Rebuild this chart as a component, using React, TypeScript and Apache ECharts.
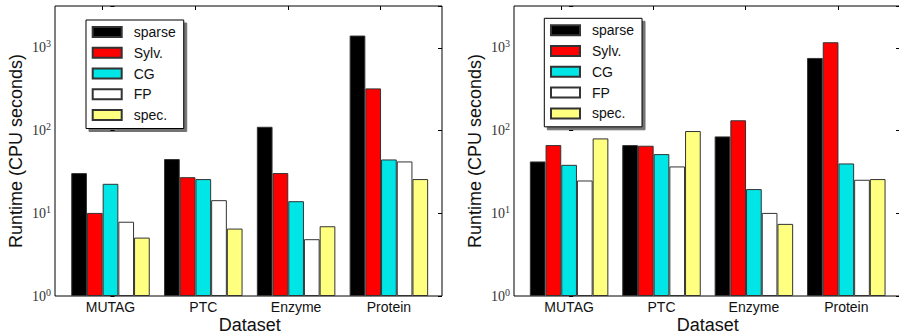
import React, { useEffect, useRef } from "react";
import * as echarts from "echarts";

const categories = ["MUTAG", "PTC", "Enzyme", "Protein"];
const seriesNames = ["sparse", "Sylv.", "CG", "FP", "spec."];
const seriesColors = ["#000000", "#ff0000", "#00e5e5", "#ffffff", "#ffff80"];

// Left panel values (CPU seconds)
const leftSparse = [30.6, 45.2, 111, 1406];
const leftSylv = [10.1, 27.3, 30.6, 323];
const leftCG = [22.7, 25.9, 14.0, 44.7];
const leftFP = [7.9, 14.4, 4.86, 42.3];
const leftSpec = [5.08, 6.53, 6.97, 25.9];

// Right panel values (CPU seconds)
const rightSparse = [42.3, 66.7, 84.9, 754];
const rightSylv = [66.7, 65.5, 133, 1167];
const rightCG = [38.5, 51.9, 19.6, 40.0];
const rightFP = [24.9, 36.8, 10.1, 25.4];
const rightSpec = [80.3, 98.6, 7.44, 25.9];

const yMin = 1;
const yMax = 3200;
const topTickValues = [-0.09, 0.91, 1.91, 2.91];

const SANS = "Liberation Sans";
const SERIF = "Liberation Serif";

function logLabel(value: number) {
  const e = Math.log10(value);
  const r = Math.round(e);
  if (Math.abs(e - r) > 1e-6) return "";
  return `{b|10}{s|${r}}`;
}

const yLabelRich = {
  b: { fontFamily: SERIF, fontSize: 14, color: "#333" },
  s: { fontFamily: SERIF, fontSize: 10, color: "#333", padding: [0, 0, 8, 0] },
};

function frameXAxis(gridIndex: number, min: number, max: number) {
  return {
    gridIndex,
    type: "value",
    position: "top",
    min,
    max,
    axisLine: { show: false },
    axisTick: {
      show: true,
      inside: true,
      length: 4,
      customValues: topTickValues,
      lineStyle: { color: "#000", width: 1 },
    },
    axisLabel: { show: false },
    splitLine: { show: false },
  };
}

function barXAxis(gridIndex: number) {
  return {
    gridIndex,
    type: "category",
    position: "bottom",
    data: categories,
    axisLine: { show: false },
    axisTick: { show: false },
    axisLabel: { fontFamily: SANS, fontSize: 14, color: "#111", margin: 4 },
    name: "Dataset",
    nameLocation: "middle",
    nameGap: 20,
    nameMoveOverlap: false,
    nameTextStyle: { fontFamily: SANS, fontSize: 18, color: "#111" },
    splitLine: { show: false },
  };
}

function frameYAxisLeft(gridIndex: number) {
  return {
    gridIndex,
    type: "log",
    logBase: 10,
    min: yMin,
    max: yMax,
    position: "left",
    axisLine: { show: false },
    axisTick: { show: true, inside: true, length: 4, lineStyle: { color: "#000" } },
    axisLabel: { formatter: logLabel, rich: yLabelRich, margin: 4 },
    splitLine: { show: false },
    minorTick: { show: false },
    name: "Runtime (CPU seconds)",
    nameLocation: "middle",
    nameGap: 30,
    nameMoveOverlap: false,
    nameTextStyle: { fontFamily: SANS, fontSize: 18, color: "#111" },
  };
}

function frameYAxisRight(gridIndex: number) {
  return {
    gridIndex,
    type: "log",
    logBase: 10,
    min: yMin,
    max: yMax,
    position: "right",
    axisLine: { show: false },
    axisTick: { show: true, inside: true, length: 4, lineStyle: { color: "#000" } },
    axisLabel: { show: false },
    splitLine: { show: false },
  };
}

function hiddenYAxis(gridIndex: number) {
  return {
    gridIndex,
    type: "log",
    logBase: 10,
    min: yMin,
    max: yMax,
    show: false,
    splitLine: { show: false },
  };
}

function makeSeries(values: number[][], xAxisIndex: number, yAxisIndex: number) {
  return values.map((vals, i) => ({
    type: "bar",
    name: seriesNames[i],
    xAxisIndex,
    yAxisIndex,
    data: vals,
    barWidth: 15.7,
    barGap: "0%",
    itemStyle: { color: seriesColors[i], borderColor: "#333", borderWidth: 1 },
    emphasis: { disabled: true },
  }));
}

function makeLegend(left: number, top: number) {
  return {
    left,
    top,
    orient: "vertical",
    data: seriesNames,
    selectedMode: false,
    icon: "rect",
    itemWidth: 29,
    itemHeight: 10,
    itemGap: 0,
    padding: [1.5, 8, 3, 5.7],
    backgroundColor: "#fff",
    borderColor: "#000",
    borderWidth: 1,
    borderRadius: 0,
    shadowColor: "rgba(0,0,0,0.55)",
    shadowBlur: 1,
    shadowOffsetX: 3,
    shadowOffsetY: 3,
    formatter: (name: string) => `{g|}{t|${name}}`,
    textStyle: {
      fontFamily: SANS,
      fontSize: 14,
      color: "#111",
      lineHeight: 20.8,
      rich: {
        g: { width: 7, lineHeight: 20.8 },
        t: { fontFamily: SANS, fontSize: 14, color: "#111", lineHeight: 20.8 },
      },
    },
  };
}

export default function App() {
  const ref = useRef<HTMLDivElement>(null);
  useEffect(() => {
    if (!ref.current) return;
    const chart = echarts.init(ref.current, undefined, { renderer: "svg" });
    const base = { containLabel: false, outerBoundsMode: "none", top: 6, bottom: 38 };
    const frameGrid = { ...base, show: true, borderColor: "#000", borderWidth: 1, backgroundColor: "transparent" };
    const option = {
      animation: false,
      grid: [
        { ...frameGrid, left: 55, right: 457 },
        { ...base, left: 64.1, right: 463.7 },
        { ...frameGrid, left: 514, right: -1 },
        { ...base, left: 522.9, right: 6.5 },
      ],
      xAxis: [
        frameXAxis(0, -0.598, 3.572),
        barXAxis(1),
        frameXAxis(2, -0.597, 3.58),
        barXAxis(3),
      ],
      yAxis: [
        frameYAxisLeft(0),
        frameYAxisRight(0),
        hiddenYAxis(1),
        frameYAxisLeft(2),
        frameYAxisRight(2),
        hiddenYAxis(3),
      ],
      legend: [makeLegend(86, 20), makeLegend(544.3, 18.3)],
      series: [
        ...makeSeries([leftSparse, leftSylv, leftCG, leftFP, leftSpec], 1, 2),
        ...makeSeries([rightSparse, rightSylv, rightCG, rightFP, rightSpec], 3, 5),
      ],
    };
    chart.setOption(option as any);
    return () => chart.dispose();
  }, []);
  return (
    <div
      ref={ref}
      style={{ position: "fixed", left: 0, top: 0, width: 899, height: 334, background: "#fff" }}
    />
  );
}
